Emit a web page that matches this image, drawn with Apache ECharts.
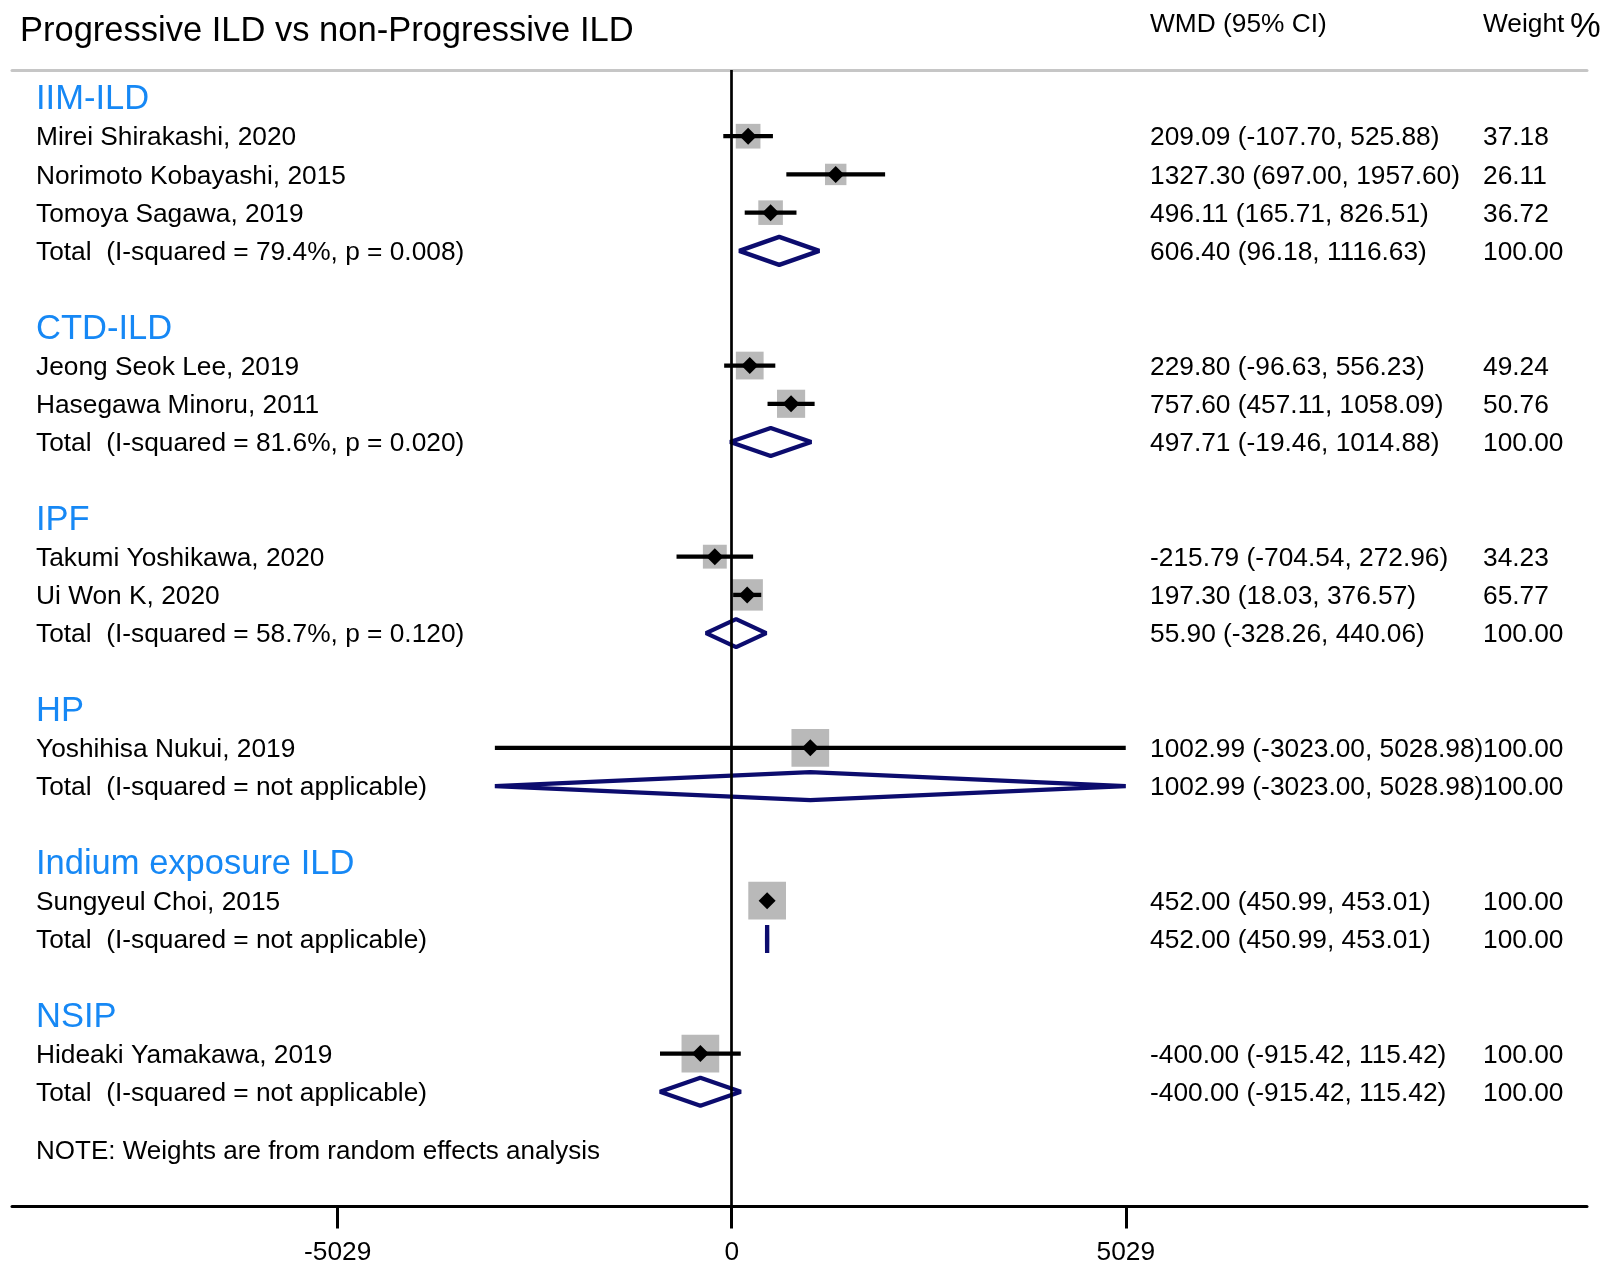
<!DOCTYPE html>
<html><head><meta charset="utf-8">
<script src="https://cdn.jsdelivr.net/npm/echarts@6/dist/echarts.min.js"></script>
<style>html,body{margin:0;padding:0;background:#fff}#c{width:1605px;height:1266px}</style>
</head><body><div id="c"></div>
<script>
const groupNames = ['IIM-ILD', 'CTD-ILD', 'IPF', 'HP', 'Indium exposure ILD', 'NSIP'];
const studyNames = ['Mirei Shirakashi, 2020', 'Norimoto Kobayashi, 2015', 'Tomoya Sagawa, 2019',
  'Jeong Seok Lee, 2019', 'Hasegawa Minoru, 2011', 'Takumi Yoshikawa, 2020', 'Ui Won K, 2020',
  'Yoshihisa Nukui, 2019', 'Sungyeul Choi, 2015', 'Hideaki Yamakawa, 2019'];
const studyGroup = [0, 0, 0, 1, 1, 2, 2, 3, 4, 5];
const studyWMD = [209.09, 1327.30, 496.11, 229.80, 757.60, -215.79, 197.30, 1002.99, 452.00, -400.00];
const studyLow = [-107.70, 697.00, 165.71, -96.63, 457.11, -704.54, 18.03, -3023.00, 450.99, -915.42];
const studyHigh = [525.88, 1957.60, 826.51, 556.23, 1058.09, 272.96, 376.57, 5028.98, 453.01, 115.42];
const studyWeight = [37.18, 26.11, 36.72, 49.24, 50.76, 34.23, 65.77, 100.00, 100.00, 100.00];
const totalHeterogeneity = ['(I-squared = 79.4%, p = 0.008)', '(I-squared = 81.6%, p = 0.020)',
  '(I-squared = 58.7%, p = 0.120)', '(I-squared = not applicable)', '(I-squared = not applicable)',
  '(I-squared = not applicable)'];
const totalWMD = [606.40, 497.71, 55.90, 1002.99, 452.00, -400.00];
const totalLow = [96.18, -19.46, -328.26, -3023.00, 450.99, -915.42];
const totalHigh = [1116.63, 1014.88, 440.06, 5028.98, 453.01, 115.42];
const totalWeight = [100.00, 100.00, 100.00, 100.00, 100.00, 100.00];
const xTickValues = [-5029, 0, 5029];
const xTickLabels = ['-5029', '0', '5029'];
const titleText = 'Progressive ILD vs non-Progressive ILD';
const noteText = 'NOTE: Weights are from random effects analysis';

const FONT = '"Liberation Sans", Arial, Helvetica, sans-serif';
const BLUE = '#1688f5', NAVY = '#0c0c6e', GRAY = '#b9b9b9';
const BODY = 26.3, BIG = 34.5, TY = 2;

// build rows: [est, row, lo, hi, type, index]  type 0=group header, 1=study, 2=total
const rows = [];
let r = 0;
groupNames.forEach((g, gi) => {
  rows.push([0, r++, 0, 0, 0, gi]);
  studyGroup.forEach((sg, si) => {
    if (sg === gi) rows.push([studyWMD[si], r++, studyLow[si], studyHigh[si], 1, si]);
  });
  rows.push([totalWMD[gi], r++, totalLow[gi], totalHigh[gi], 2, gi]);
  r++;
});

const fmt = v => v.toFixed(2);
const TX_LEFT = 36, TX_WMD = 1150, TX_W = 1483;

function txt(x, y, s, size, color) {
  return { type: 'text', style: { x: x, y: y + TY, text: s, fill: color || '#000', fontSize: size || BODY,
    fontFamily: FONT, align: 'left', verticalAlign: 'middle' } };
}

function renderItem(params, api) {
  const type = api.value(4), idx = api.value(5), row = api.value(1);
  const est = api.value(0), lo = api.value(2), hi = api.value(3);
  const y = api.coord([0, row])[1];
  const ch = [];
  if (type === 0) {
    ch.push(txt(TX_LEFT, y, groupNames[idx], BIG, BLUE));
  } else if (type === 1) {
    const px = api.coord([est, row])[0], pl = api.coord([lo, row])[0], ph = api.coord([hi, row])[0];
    const s = 3.33 * Math.sqrt(studyWeight[idx]) + 4.4;
    ch.push({ type: 'rect', shape: { x: px - s / 2, y: y - s / 2, width: s, height: s }, style: { fill: GRAY } });
    ch.push({ type: 'line', shape: { x1: pl, y1: y, x2: ph, y2: y }, style: { stroke: '#000', lineWidth: 4.3 } });
    ch.push({ type: 'polygon', shape: { points: [[px - 8.5, y], [px, y - 8.5], [px + 8.5, y], [px, y + 8.5]] }, style: { fill: '#000' } });
    ch.push(txt(TX_LEFT, y, studyNames[idx]));
    ch.push(txt(TX_WMD, y, fmt(studyWMD[idx]) + ' (' + fmt(studyLow[idx]) + ', ' + fmt(studyHigh[idx]) + ')'));
    ch.push(txt(TX_W, y, fmt(studyWeight[idx])));
  } else {
    const px = api.coord([est, row])[0], pl = api.coord([lo, row])[0], ph = api.coord([hi, row])[0];
    const h = 14;
    ch.push({ type: 'polygon', shape: { points: [[pl, y], [px, y - h], [ph, y], [px, y + h]] },
      style: { fill: 'none', stroke: NAVY, lineWidth: 4.3, lineJoin: 'bevel' } });
    ch.push(txt(TX_LEFT, y, 'Total  ' + totalHeterogeneity[idx]));
    ch.push(txt(TX_WMD, y, fmt(totalWMD[idx]) + ' (' + fmt(totalLow[idx]) + ', ' + fmt(totalHigh[idx]) + ')'));
    ch.push(txt(TX_W, y, fmt(totalWeight[idx])));
  }
  return { type: 'group', children: ch };
}

const chart = echarts.init(document.getElementById('c'), null, { renderer: 'canvas' });
chart.setOption({
  animation: false,
  backgroundColor: '#fff',
  grid: { left: 12, right: 18, top: 70, bottom: 59.5, containLabel: false },
  xAxis: [{
    type: 'value', min: -9186, max: 10916, position: 'bottom',
    axisLine: { show: true, onZero: false, lineStyle: { color: '#000', width: 3 } },
    axisTick: { show: true, customValues: xTickValues, length: 22, lineStyle: { color: '#000', width: 3 } },
    axisLabel: { customValues: xTickValues, formatter: v => xTickLabels[xTickValues.indexOf(v)],
      fontSize: BODY, color: '#000', fontFamily: FONT, margin: 33 },
    splitLine: { show: false }
  }, {
    type: 'value', min: -9186, max: 10916, position: 'top',
    axisLine: { show: true, onZero: false, lineStyle: { color: '#c6c6c6', width: 3 } },
    axisTick: { show: false }, axisLabel: { show: false }, splitLine: { show: false }
  }],
  yAxis: { type: 'value', inverse: true, min: -0.732, max: 29, show: false, splitLine: { show: false } },
  series: [{
    type: 'custom', renderItem: renderItem, data: rows, clip: false,
    encode: { x: [0, 2, 3], y: 1 },
    markLine: { silent: true, symbol: 'none', label: { show: false },
      lineStyle: { color: '#000', width: 2.7, type: 'solid' }, data: [{ xAxis: 0 }] },
    z: 3
  }],
  graphic: [
    { type: 'text', x: 20, y: 31, style: { text: titleText, fontSize: BIG, fontFamily: FONT, fill: '#000', verticalAlign: 'middle' } },
    { type: 'text', x: 1150, y: 24.5, style: { text: 'WMD (95% CI)', fontSize: BODY, fontFamily: FONT, fill: '#000', verticalAlign: 'middle' } },
    { type: 'text', x: 1483, y: 24.5, style: { text: 'Weight', fontSize: BODY, fontFamily: FONT, fill: '#000', verticalAlign: 'middle' } },
    { type: 'text', x: 1570, y: 27.5, style: { text: '%', fontSize: BIG, fontFamily: FONT, fill: '#000', verticalAlign: 'middle' } },
    { type: 'text', x: 36, y: 1151.5, style: { text: noteText, fontSize: 26, fontFamily: FONT, fill: '#000', verticalAlign: 'middle' } }
  ]
});
</script></body></html>
